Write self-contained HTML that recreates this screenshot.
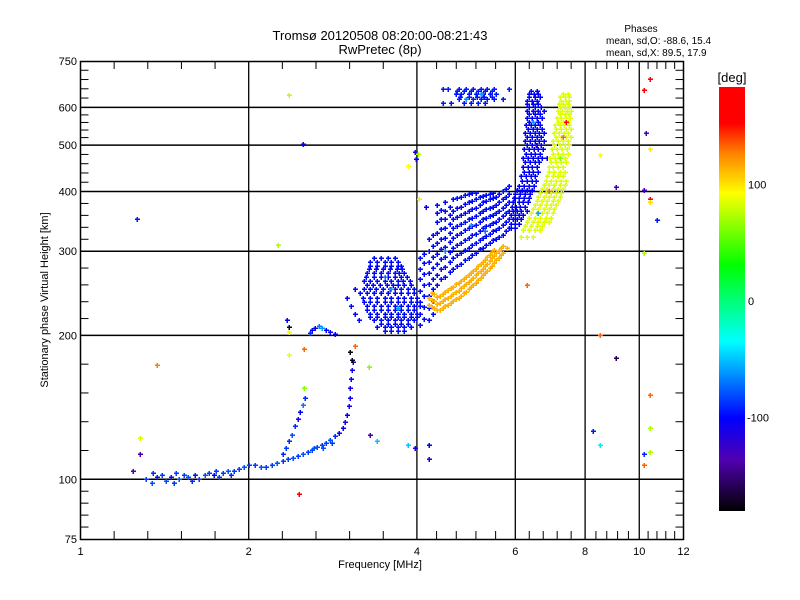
<!DOCTYPE html>
<html><head><meta charset="utf-8"><title>Tromsø ionogram</title>
<style>
html,body{margin:0;padding:0;background:#fff;}
svg{display:block;font-family:"Liberation Sans",sans-serif;}
</style></head>
<body>
<svg id="chart" width="800" height="600" viewBox="0 0 800 600">
<defs>
<linearGradient id="cbgrad" x1="0" y1="0" x2="0" y2="1">
<stop offset="0" stop-color="#ff0000"/>
<stop offset="0.085" stop-color="#ff0000"/>
<stop offset="0.155" stop-color="#ff8000"/>
<stop offset="0.25" stop-color="#ffff00"/>
<stop offset="0.42" stop-color="#00ff00"/>
<stop offset="0.6" stop-color="#00ffff"/>
<stop offset="0.78" stop-color="#0000ff"/>
<stop offset="0.88" stop-color="#5000b0"/>
<stop offset="1" stop-color="#000000"/>
</linearGradient>
</defs>
<g font-size="13" text-anchor="middle" fill="#000">
<text x="380" y="40">Tromsø 20120508 08:20:00-08:21:43</text>
<text x="380" y="54">RwPretec (8p)</text>
</g>
<g font-size="10" fill="#000">
<text x="641" y="32" text-anchor="middle">Phases</text>
<text x="606" y="44">mean, sd,O: -88.6, 15.4</text>
<text x="606" y="56">mean, sd,X:  89.5, 17.9</text>
</g>
<g id="grid"></g>
<g id="axes"></g>
<g id="points" shape-rendering="crispEdges"></g>
<rect x="80.5" y="61.5" width="603" height="478" fill="none" stroke="#000" stroke-width="1.5"/>
<text x="380" y="568" font-size="11" text-anchor="middle">Frequency [MHz]</text>
<text transform="translate(48,300) rotate(-90)" font-size="11" text-anchor="middle">Stationary phase Virtual Height [km]</text>
<g>
<rect x="719" y="87" width="26" height="424" fill="url(#cbgrad)"/>
<text x="732" y="82" font-size="13" text-anchor="middle">[deg]</text>
<g id="cbticks" font-size="11"></g>
</g>
</svg>
<script>
// axis configuration (values)
const xMajorTicks = [1, 2, 4, 6, 8, 10, 12];
const xGridValues = [2, 4, 6, 8, 10];
const yMajorTicks = [75, 100, 200, 300, 400, 500, 600, 750];
const yGridValues = [100, 200, 300, 400, 500, 600];
const colorbarTicks = [100, 0, -100];

// E-layer trace [freq MHz, height km, phase deg]
const eTrace = [
[1.31,100,-85],[1.34,98,-80],[1.37,101,-95],[1.4,102,-85],[1.42,99,-80],[1.45,101,-95],[1.48,103,-85],[1.5,100,-80],
[1.53,102,-85],[1.56,101,-80],[1.6,102,-95],[1.63,100,-85],[1.67,102,-80],[1.7,103,-85],[1.73,102,-100],[1.77,101,-85],
[1.8,103,-85],[1.84,104,-80],[1.88,104,-85],[1.92,105,-85],[1.96,106,-80],[2.0,107,-85],[2.05,107,-85],[2.1,106,-80],
[2.15,106,-85],[2.2,107,-85],[2.25,108,-80],[2.3,109,-85],[2.35,110,-85],[2.4,111,-80],[2.45,112,-85],[2.5,113,-80],
[2.55,114,-85],[2.6,115,-85],[2.65,117,-80],[2.7,118,-85],[2.75,119,-85],[2.8,121,-80],[2.85,123,-90],[2.9,125,-100],
[2.95,128,-105],[2.98,132,-110],[3.0,136,-100],[3.02,142,-110],[3.03,148,-105],[3.04,155,-110],[3.05,162,-105],[3.06,169,-110],[3.07,176,-115],
[1.35,103,-90],[1.47,98,-85],[1.58,99,-90],[1.75,104,-85],[1.86,102,-90],[2.62,116,-80],[2.72,116,-80],[2.82,119,-85]
];
// Es-like second trace and 200 km cluster
const secondTrace = [
[2.3,113,-90],[2.33,116,-85],[2.36,120,-90],[2.39,124,-80],[2.42,129,-90],[2.45,134,-110],[2.47,138,-100],[2.5,143,-70],[2.52,148,-90],
[2.57,202,-90],[2.6,205,-100],[2.63,207,-105],[2.67,209,-70],[2.71,207,-60],[2.75,205,-100],[2.8,203,-105],[2.86,201,-100]
];
// Lower F blob (blue), rows of [height, freqs]
const leftBlobRows = [
[290,[3.35,3.45,3.55,3.65]],
[285,[3.3,3.4,3.5,3.6,3.7]],
[280,[3.3,3.4,3.5,3.6,3.7,3.75]],
[275,[3.28,3.38,3.48,3.58,3.68,3.76]],
[270,[3.25,3.35,3.45,3.55,3.65,3.72,3.8]],
[265,[3.24,3.35,3.45,3.55,3.65,3.75,3.84]],
[260,[3.22,3.3,3.4,3.5,3.6,3.7,3.78,3.88]],
[255,[3.26,3.34,3.44,3.54,3.62,3.7,3.8,3.9]],
[250,[3.1,3.22,3.3,3.38,3.48,3.58,3.66,3.75,3.85,3.95]],
[245,[3.16,3.25,3.35,3.45,3.55,3.65,3.75,3.85,3.95]],
[240,[3.0,3.2,3.3,3.4,3.5,3.6,3.7,3.8,3.9,4.0]],
[235,[3.22,3.3,3.4,3.5,3.6,3.7,3.8,3.9,4.0]],
[230,[3.05,3.25,3.35,3.45,3.55,3.65,3.75,3.85,3.95,4.05]],
[226,[3.25,3.35,3.45,3.55,3.65,3.75,3.85,3.95]],
[222,[3.1,3.3,3.4,3.5,3.6,3.7,3.8,3.9,4.0]],
[218,[3.3,3.4,3.5,3.6,3.7,3.8,3.9,4.0]],
[215,[3.15,3.35,3.45,3.55,3.65,3.75,3.85,3.95]],
[211,[3.45,3.55,3.65,3.75,3.85]],
[208,[3.4,3.5,3.6,3.7,3.8,3.9]],
[204,[3.5,3.6,3.7,3.8]]
];
const leftBlobPhase = -98;
// Upper F band (blue), columns of [freq, heights]
const bandCols = [
[4.05,[210,222,235,248,262,276,290]],
[4.12,[216,229,242,255,269,283,296]],
[4.2,[215,228,242,256,270,285,300,318]],
[4.28,[222,236,250,263,277,292,308,325]],
[4.35,[255,268,282,296,312,328,345,360,375]],
[4.42,[262,275,289,303,318,334,350,366]],
[4.5,[265,278,292,306,320,335,350,365,380]],
[4.58,[271,285,299,313,328,342,358,372]],
[4.65,[275,290,305,320,335,350,365,385]],
[4.72,[280,294,309,324,339,354,370,388]],
[4.8,[282,297,312,327,342,357,372,390]],
[4.88,[288,302,317,332,346,361,377,393]],
[4.95,[290,305,320,335,350,365,380,395]],
[5.02,[295,309,324,338,352,368,383,398]],
[5.1,[298,312,326,340,355,370,385,398]],
[5.18,[303,317,331,345,360,375,389]],
[5.25,[305,320,335,350,365,380,392]],
[5.32,[309,323,338,352,367,382,394]],
[5.4,[312,326,340,355,370,385,395]],
[5.48,[316,330,344,358,372,387,398]],
[5.55,[318,332,346,360,375,390]],
[5.62,[322,336,350,365,380,395]],
[5.7,[325,340,355,370,385,400]],
[5.78,[330,345,360,375,390,405]],
[5.85,[335,350,365,380,395,410]]
];
const bandPhase = -98;
// Steep blue O-mode column, rows of [height, freqs]
const oColumnRows = [
[650,[6.4,6.55]],[640,[6.35,6.48,6.6]],[630,[6.35,6.5,6.65]],[620,[6.3,6.42,6.56]],[610,[6.3,6.45,6.6]],
[600,[6.36,6.52,6.68]],[590,[6.3,6.45,6.6,6.75]],[580,[6.36,6.5,6.64]],
[570,[6.3,6.42,6.55,6.7]],[560,[6.34,6.46,6.6]],[550,[6.28,6.4,6.52,6.65]],[540,[6.32,6.45,6.57,6.7]],
[530,[6.25,6.38,6.5,6.62,6.75]],[520,[6.3,6.43,6.56,6.68]],
[510,[6.25,6.37,6.5,6.62,6.75]],[500,[6.3,6.42,6.54,6.66]],[490,[6.22,6.35,6.47,6.6,6.72]],[480,[6.27,6.4,6.52,6.64]],
[470,[6.2,6.32,6.45,6.58,6.7,6.85]],[460,[6.25,6.38,6.5,6.62]],
[450,[6.2,6.32,6.44,6.56,6.9]],[440,[6.22,6.34,6.46,6.58]],[430,[6.15,6.28,6.4,6.52,7.0]],[420,[6.18,6.3,6.42,6.54]],
[410,[6.1,6.22,6.35,6.48]],[402,[6.05,6.17,6.3,6.43]],
[395,[6.0,6.12,6.25,6.38]],[388,[5.98,6.1,6.22,6.35]],[380,[5.95,6.08,6.2,6.32]],[372,[5.92,6.02,6.12,6.25]],
[365,[5.95,6.05,6.15,6.3]],[358,[5.9,6.0,6.1,6.2]],
[350,[5.95,6.05,6.15]],[342,[5.9,6.0,6.1]],[335,[5.9,6.0]]
];
const oColumnPhase = -100;
// Yellow X-mode column, rows of [height, freqs]
const xColumnRows = [
[640,[7.3,7.45]],[630,[7.22,7.36,7.5]],[620,[7.25,7.4,7.5]],[610,[7.18,7.3,7.45]],[600,[7.2,7.35,7.5]],
[590,[7.15,7.28,7.42,7.55]],[580,[7.2,7.35,7.5]],[570,[7.12,7.25,7.4,7.52]],
[560,[7.15,7.3,7.45]],[550,[7.08,7.2,7.34,7.48]],[540,[7.1,7.25,7.4,7.55]],[530,[7.05,7.18,7.32,7.47]],
[520,[7.1,7.25,7.4,7.55]],[510,[7.02,7.15,7.3,7.45]],[500,[7.05,7.2,7.35,7.5]],[490,[6.98,7.12,7.27,7.42]],
[480,[7.0,7.15,7.3,7.45]],[470,[6.92,7.06,7.2,7.35]],[460,[6.95,7.1,7.25,7.4]],[450,[6.88,7.0,7.15,7.3]],
[440,[6.9,7.05,7.2,7.35]],[430,[6.85,7.0,7.15,7.3]],
[420,[6.8,6.95,7.1,7.25,7.4]],[412,[6.75,6.9,7.05,7.2,7.35]],[405,[6.7,6.85,7.0,7.15,7.3]],[398,[6.65,6.8,6.95,7.1,7.25]],
[390,[6.6,6.75,6.9,7.05,7.2]],[382,[6.55,6.7,6.85,7.0,7.15]],
[375,[6.5,6.65,6.8,6.95,7.1]],[368,[6.45,6.6,6.75,6.9,7.05]],[360,[6.4,6.55,6.7,6.85,7.0]],[352,[6.35,6.5,6.65,6.8,6.95]],
[345,[6.3,6.45,6.6,6.75,6.9]],[338,[6.25,6.4,6.55,6.7]],
[332,[6.2,6.35,6.5,6.65]],[322,[6.15,6.3,6.45]]
];
const xColumnPhase = 82;
// Lower yellow/orange X trace, columns of [freq, heights]
const xTraceCols = [
[4.2,[232,240]],[4.25,[229,237,245]],[4.3,[228,236,244]],[4.35,[226,233,241]],[4.4,[226,234,242]],[4.45,[228,236,244]],
[4.5,[230,238,247]],[4.55,[232,240,249]],[4.6,[234,242,251]],[4.65,[236,244,253]],
[4.7,[238,246,256]],[4.75,[240,248,258]],[4.8,[242,251,260]],[4.85,[245,254,263]],[4.9,[247,256,265]],[4.95,[250,259,268]],
[5.0,[252,261,270]],[5.05,[255,264,273]],[5.1,[258,267,276]],[5.15,[261,270,279]],
[5.2,[264,273,282]],[5.25,[267,276,285]],[5.3,[270,279,288]],[5.35,[273,282,292]],[5.4,[277,286,295]],[5.45,[280,290,299]],
[5.5,[284,293,302]],[5.55,[288,297]],[5.6,[291,300]],[5.65,[295,304]],
[5.7,[298,307]],[5.8,[305]]
];
const xTracePhase = 112;
// Top cluster near 600-660 km, rows of [height, freqs]
const topRows = [
[655,[4.45,4.55,4.75,4.9,5.05,5.2,5.35,5.5,5.85]],
[648,[4.72,4.85,5.0,5.15,5.3,5.45]],
[640,[4.7,4.8,4.95,5.1,5.25,5.4,5.55]],
[632,[4.78,4.95,5.12,5.28,5.45]],
[625,[4.75,4.9,5.05,5.2,5.35,5.5,5.7]],
[612,[4.45,4.6,4.85,5.0,5.15,5.3]]
];
const topPhase = -95;
// Isolated points [freq, height, phase]
const scatterPts = [
[1.26,350,-95],[1.37,173,125],[1.28,122,80],[1.28,113,-140],[1.24,104,-140],
[2.36,638,75],[2.5,502,-100],[2.26,309,70],[2.34,215,-100],[2.36,208,-170],[2.36,203,85],[2.36,182,85],
[2.51,187,130],[2.51,155,60],[2.46,93,170],[3.04,185,-175],[3.06,178,-175],[3.1,190,130],
[3.3,124,-140],[3.4,120,-50],[3.28,172,60],[3.85,118,-50],[3.97,116,-110],[4.2,118,-100],[4.2,110,-110],
[3.85,452,90],[3.97,483,-110],[4.02,480,70],[3.99,468,-100],[4.03,385,95],[4.16,371,-100],
[6.3,255,130],[8.5,478,90],[9.1,408,-130],[8.5,200,130],[9.1,179,-160],[8.25,126,-95],[8.5,118,-40],
[10.45,687,170],[10.18,652,150],[10.3,531,-130],[10.45,492,95],[10.18,402,-135],[10.45,386,150],[10.45,380,100],
[10.75,348,-95],[10.18,297,70],[10.45,150,130],[10.45,128,70],[10.18,113,-90],[10.45,114,70],[10.18,107,130],
[3.6,250,-60],[3.5,265,-70],[3.7,228,-60],[4.5,300,-65],[5.0,340,-60],[5.3,330,-70],[6.45,560,-60],[6.55,500,-130],
[7.3,520,130],[7.2,470,60],[7.4,560,150],[6.9,400,130],[6.6,360,-60],[5.2,640,-60],[4.9,625,-65]
];

const PX0 = 80.5, PX1 = 683.5, PY0 = 539, PY1 = 61;
function xPos(f){ return PX0 + (PX1-PX0) * Math.log10(f) / Math.log10(12); }
function yPos(h){ return PY0 - (PY0-PY1) * Math.log10(h/75) / Math.log10(10); }
const cStops = [[180,[255,0,0]],[150,[255,0,0]],[125,[255,128,0]],[90,[255,255,0]],[28,[0,255,0]],[-36,[0,255,255]],[-100,[0,0,255]],[-137,[80,0,176]],[-180,[0,0,0]]];
function phaseColor(p){
  for(let i=0;i<cStops.length-1;i++){
    const a=cStops[i], b=cStops[i+1];
    if(p<=a[0] && p>=b[0]){
      const t=(a[0]-p)/(a[0]-b[0]);
      const c=a[1].map((v,k)=>Math.round(v+(b[1][k]-v)*t));
      return 'rgb('+c.join(',')+')';
    }
  }
  return p>0?'rgb(255,0,0)':'rgb(0,0,0)';
}
const NS='http://www.w3.org/2000/svg';
function mk(tag, attrs, parent){
  const e=document.createElementNS(NS,tag);
  for(const k in attrs) e.setAttribute(k,attrs[k]);
  parent.appendChild(e); return e;
}
const grid=document.getElementById('grid'), axes=document.getElementById('axes'), pts=document.getElementById('points');

xGridValues.forEach(v=>{
  const l=mk('line',{x1:xPos(v),x2:xPos(v),y1:PY1,y2:PY0,stroke:'#000','stroke-width':1.3},grid);
  
  
});
yGridValues.forEach(v=>{
  const l=mk('line',{x1:PX0,x2:PX1,y1:yPos(v),y2:yPos(v),stroke:'#000','stroke-width':1.5},grid);
  
  
});
for(let i=0;i<xMajorTicks.length-1;i++){
  const a=Math.log10(xMajorTicks[i]), b=Math.log10(xMajorTicks[i+1]);
  for(let k=1;k<5;k++){
    const x=xPos(Math.pow(10,a+(b-a)*k/5));
    [[PY1,PY1+8],[PY0,PY0-8]].forEach(([y1,y2])=>{
      const t=mk('line',{x1:x,x2:x,y1:y1,y2:y2,stroke:'#000','stroke-width':1},axes);
      
      
    });
  }
}
for(let i=0;i<yMajorTicks.length-1;i++){
  const a=Math.log10(yMajorTicks[i]), b=Math.log10(yMajorTicks[i+1]);
  for(let k=1;k<5;k++){
    const y=yPos(Math.pow(10,a+(b-a)*k/5));
    [[PX0,PX0+8],[PX1,PX1-8]].forEach(([x1,x2])=>{
      const t=mk('line',{x1:x1,x2:x2,y1:y,y2:y,stroke:'#000','stroke-width':1},axes);
      
      
    });
  }
}
xMajorTicks.forEach(v=>{
  const t=mk('text',{x:xPos(v),y:555,'font-size':11,'text-anchor':'middle'},axes);
  t.textContent=v;
  
  
});
yMajorTicks.forEach(v=>{
  const t=mk('text',{x:77,y:yPos(v)+4,'font-size':11,'text-anchor':'end'},axes);
  t.textContent=v;
  
  
});
const cb=document.getElementById('cbticks');
colorbarTicks.forEach(v=>{
  const y=301-1.165*v;
  const t=mk('text',{x:v<0?747:748,y:y+4},cb);
  t.textContent=v;
  
  
});

function plus(f,h,p){
  const x=Math.round(xPos(f)), y=Math.round(yPos(h)), c=phaseColor(p);
  const g=mk('path',{d:'M'+(x-2)+' '+y+'h5M'+x+' '+(y-2)+'v5',stroke:c,'stroke-width':1.5,fill:'none'},pts);
  
  
}
eTrace.forEach(d=>plus(d[0],d[1],d[2]));
secondTrace.forEach(d=>plus(d[0],d[1],d[2]));
leftBlobRows.forEach(r=>r[1].forEach(f=>plus(f,r[0],leftBlobPhase)));
bandCols.forEach(c=>c[1].forEach(h=>plus(c[0],h,bandPhase)));
topRows.forEach(r=>r[1].forEach(f=>plus(f,r[0],topPhase)));
xTraceCols.forEach(c=>c[1].forEach(h=>plus(c[0],h,xTracePhase)));
oColumnRows.forEach(r=>r[1].forEach(f=>plus(f,r[0],oColumnPhase)));
xColumnRows.forEach(r=>r[1].forEach(f=>plus(f,r[0],xColumnPhase)));
scatterPts.forEach(d=>plus(d[0],d[1],d[2]));
</script>
</body></html>
